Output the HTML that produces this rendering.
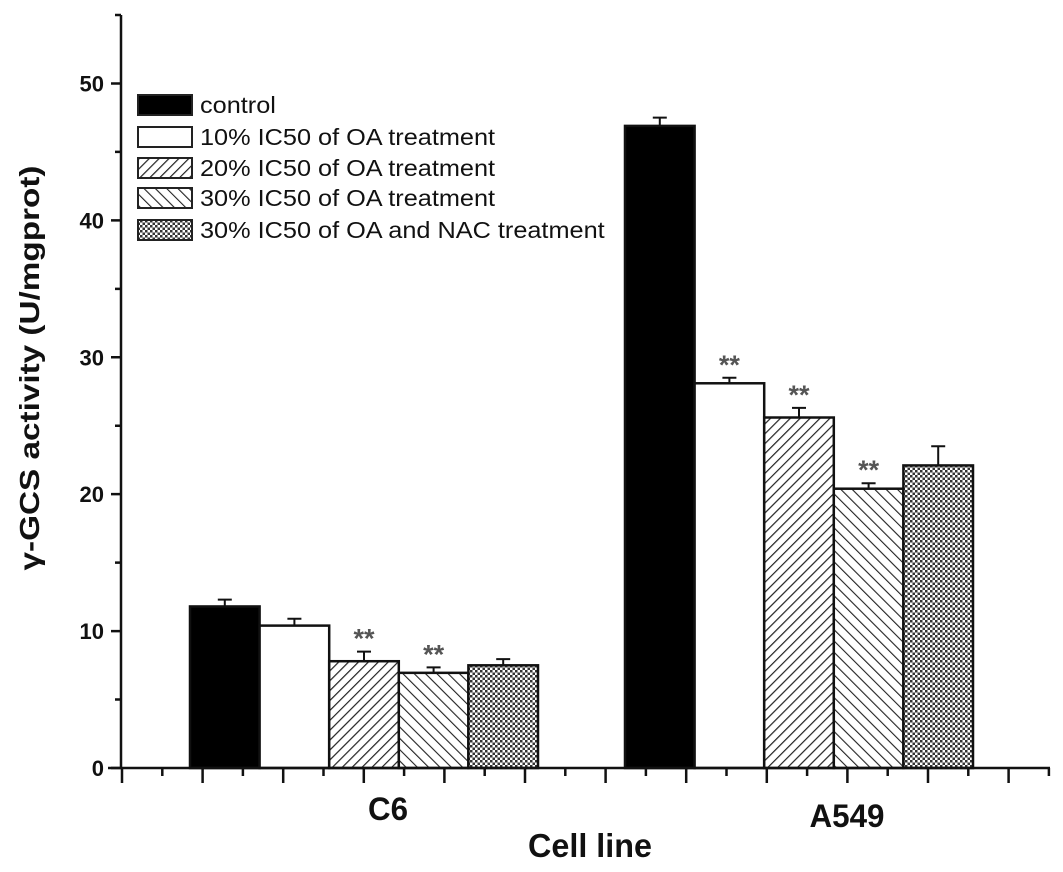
<!DOCTYPE html>
<html><head><meta charset="utf-8"><style>
body{margin:0;background:#fff;}
svg{display:block;font-family:"Liberation Sans",Arial,sans-serif;}
</style></head><body>
<svg id="chart" width="1063" height="872" viewBox="0 0 1063 872">
<defs>
<pattern id="p20" patternUnits="userSpaceOnUse" width="7" height="7" patternTransform="rotate(45)"><rect width="7" height="7" fill="#fff"/><line x1="0" y1="0" x2="0" y2="7" stroke="#222" stroke-width="2.4"/></pattern>
<pattern id="p30" patternUnits="userSpaceOnUse" width="8" height="8" patternTransform="rotate(-45)"><rect width="8" height="8" fill="#fff"/><line x1="0" y1="0" x2="0" y2="8" stroke="#222" stroke-width="2.2"/></pattern>
<pattern id="pnac" patternUnits="userSpaceOnUse" width="5" height="5"><rect width="5" height="5" fill="#fff"/><rect width="2.5" height="2.5" fill="#333"/><rect x="2.5" y="2.5" width="2.5" height="2.5" fill="#333"/></pattern>
</defs>
<g id="plot"></g>
</svg>
<script>
const categories = ["C6", "A549"];
const seriesNames = ["control", "10% IC50 of OA treatment", "20% IC50 of OA treatment", "30% IC50 of OA treatment", "30% IC50 of OA and NAC treatment"];
const control = [11.8, 46.9];
const oa10 = [10.4, 28.1];
const oa20 = [7.8, 25.6];
const oa30 = [6.95, 20.4];
const oaNac = [7.5, 22.1];
const errControl = [0.5, 0.6];
const errOa10 = [0.5, 0.4];
const errOa20 = [0.7, 0.7];
const errOa30 = [0.4, 0.4];
const errOaNac = [0.45, 1.4];
const sigControl = [false, false];
const sigOa10 = [false, true];
const sigOa20 = [true, true];
const sigOa30 = [true, true];
const sigOaNac = [false, false];
const yTicks = [0, 10, 20, 30, 40, 50];

const NS = "http://www.w3.org/2000/svg";
const g = document.getElementById("plot");
const y0 = 768, yTop = 15, yMax = 55;
function yS(v){ return y0 - v * (y0 - yTop) / yMax; }
const groupCenters = [364, 799];
const barW = 69.6;
function xBar(ci, si){ return groupCenters[ci] + (si - 2.5) * barW; }
function el(tag, attrs, parent){ const e = document.createElementNS(NS, tag); for (const k in attrs) e.setAttribute(k, attrs[k]); (parent||g).appendChild(e); return e; }

const series = [control, oa10, oa20, oa30, oaNac];
const errs = [errControl, errOa10, errOa20, errOa30, errOaNac];
const sigs = [sigControl, sigOa10, sigOa20, sigOa30, sigOaNac];
const fills = ["#000", "#fff", "url(#p20)", "url(#p30)", "url(#pnac)"];
const keys = ["control", "oa10", "oa20", "oa30", "oa-nac"];

categories.forEach((c, ci) => {
  series.forEach((s, si) => {
    const x = xBar(ci, si), top = yS(s[ci]);
    const r = el("rect", {x: x, y: top, width: barW, height: y0 - top, fill: fills[si], stroke: "#111", "stroke-width": 2.5});
    
    
    const cx = x + barW / 2, et = yS(s[ci] + errs[si][ci]);
    const e = el("path", {d: `M${cx},${top}V${et}M${cx-7},${et}H${cx+7}`, stroke: "#111", "stroke-width": 2, fill: "none"});
    
    
    if (sigs[si][ci]) {
      const t = el("text", {x: cx, y: et - 4, "text-anchor": "middle", "font-size": 27, "font-weight": "bold", fill: "#555"});
      t.textContent = "**";
      
      
    }
  });
});

// axes
const ax = el("path", {d: `M121,${yTop}V${y0}M108,${y0}H1050`, stroke: "#111", "stroke-width": 2.5, fill: "none"});


let tp = "";
for (let v = 0; v <= 55; v += 5) {
  const yy = yS(v); tp += `M121,${yy}H${v % 10 === 0 ? 111 : 115}`;
}
for (let k = 0; k <= 23; k++) {
  const xx = 122 + k * 40.3; if (xx > 1051) break;
  tp += `M${xx},${y0}V${y0 + (k % 2 === 0 ? 15 : 8)}`;
}
const tk = el("path", {d: tp, stroke: "#111", "stroke-width": 2.5, fill: "none"});


yTicks.forEach(v => {
  const t = el("text", {x: 104, y: yS(v) + 8, "text-anchor": "end", "font-size": 22, "font-weight": "bold", fill: "#111"});
  t.textContent = v;
  
  
});
const catLabelX = [388, 847];
const catLabelY = [820, 827];
const catLabelW = [40, 75];
categories.forEach((c, ci) => {
  const t = el("text", {x: catLabelX[ci], y: catLabelY[ci], "text-anchor": "middle", "font-size": 32, "font-weight": "bold", fill: "#111", textLength: catLabelW[ci], lengthAdjust: "spacingAndGlyphs"});
  t.textContent = c;
  
  
});
const xt = el("text", {x: 590, y: 857, "text-anchor": "middle", "font-size": 33, "font-weight": "bold", fill: "#111", textLength: 124, lengthAdjust: "spacingAndGlyphs"});
xt.textContent = "Cell line";


const yt = el("text", {x: 0, y: 0, transform: "translate(39,368) rotate(-90)", "text-anchor": "middle", "font-size": 28, "font-weight": "bold", fill: "#111", textLength: 405, lengthAdjust: "spacingAndGlyphs"});
yt.textContent = "γ-GCS activity (U/mgprot)";



// legend
const legY = [105, 137, 168, 198, 230];
seriesNames.forEach((n, i) => {
  const r = el("rect", {x: 138, y: legY[i] - 10, width: 54, height: 20, fill: fills[i], stroke: "#222", "stroke-width": 2});
  
  
  const t = el("text", {x: 0, y: 0, transform: `translate(200,${legY[i] + 8}) scale(1.1,1)`, "font-size": 23, fill: "#111"});
  t.textContent = n;
  
  
});
</script>
</body></html>
